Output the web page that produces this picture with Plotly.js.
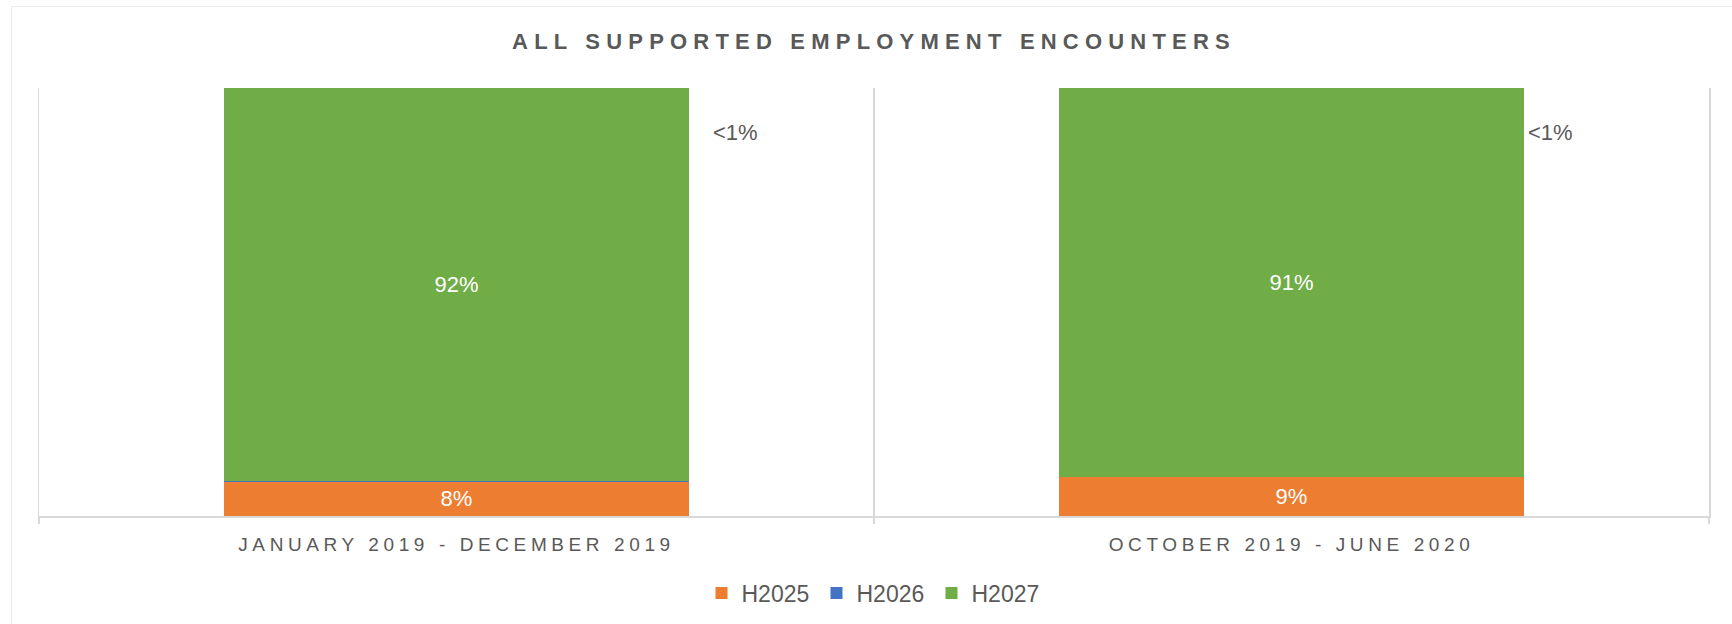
<!DOCTYPE html>
<html>
<head>
<meta charset="utf-8">
<script src="https://cdn.plot.ly/plotly-3.0.1.min.js"></script>
<style>
  html, body { margin: 0; padding: 0; background: #ffffff; }
  #chart { width: 1732px; height: 624px; }
  #frame { position: absolute; left: 11px; top: 6px; width: 1730px; height: 630px;
           border-left: 1px solid #ececec; border-top: 1px solid #ececec; pointer-events: none; }
  .gtitle { letter-spacing: 6.2px; }
  .xtick text { letter-spacing: 4.6px; }
</style>
</head>
<body>
<div id="chart"></div>
<div id="frame"></div>
<script>
// ---- data ----
const categories = ["JANUARY 2019 - DECEMBER 2019", "OCTOBER 2019 - JUNE 2020"];
const h2025 = [8, 9];
const h2026 = [0.2, 0.2];
const h2027 = [91.8, 90.8];
const h2025Labels = ["8%", "9%"];
const h2026Labels = ["<1%", "<1%"];
const h2027Labels = ["92%", "91%"];
const seriesNames = ["H2025", "H2026", "H2027"];
const colors = ["#ED7D31", "#4472C4", "#70AD47"];

const fontFam = '"Liberation Sans", Arial, sans-serif';
const txtColor = '#595959';

function barTrace(name, vals, labels, color, showText) {
  return {
    type: 'bar', name: name, x: categories, y: vals,
    marker: { color: color, line: { width: 0 } },
    text: showText ? labels : undefined,
    textposition: showText ? 'inside' : 'none',
    insidetextanchor: 'middle',
    textangle: 0,
    constraintext: 'none',
    textfont: { family: fontFam, size: 22, color: '#ffffff' },
    hoverinfo: 'name+y'
  };
}

const traces = [
  barTrace(seriesNames[0], h2025, h2025Labels, colors[0], true),
  barTrace(seriesNames[1], h2026, h2026Labels, colors[1], false),
  barTrace(seriesNames[2], h2027, h2027Labels, colors[2], true)
];

// "<1%" labels for the tiny H2026 segment, placed at the right of each bar top
const labelShifts = [279, 259];
const annotations = categories.map((c, i) => ({
  x: c, y: h2025[i] + h2026[i] + h2027[i], xref: 'x', yref: 'y',
  text: h2026Labels[i], showarrow: false,
  xshift: labelShifts[i], yshift: -44,
  font: { family: fontFam, size: 22, color: txtColor }
}));

const layout = {
  width: 1732, height: 624,
  paper_bgcolor: '#ffffff', plot_bgcolor: '#ffffff',
  margin: { l: 39, r: 23, t: 88, b: 108 },
  barmode: 'stack',
  bargap: 0.442,
  title: {
    text: '<b>ALL SUPPORTED EMPLOYMENT ENCOUNTERS</b>',
    font: { family: fontFam, size: 22, color: txtColor },
    x: 0.5, xanchor: 'center', xref: 'paper',
    y: 1 - 41 / 624, yanchor: 'middle', yref: 'container'
  },
  xaxis: {
    type: 'category',
    tickson: 'boundaries',
    showgrid: true, gridcolor: '#d9d9d9', gridwidth: 1.5,
    ticks: 'outside', ticklen: 6, tickcolor: '#d9d9d9', tickwidth: 1.5,
    showline: true, linecolor: '#d9d9d9', linewidth: 1.5,
    ticklabelstandoff: 11,
    tickfont: { family: fontFam, size: 19, color: txtColor },
    fixedrange: true
  },
  yaxis: {
    range: [0, 100],
    showgrid: false, zeroline: false,
    showline: true, mirror: true, linecolor: '#d9d9d9', linewidth: 1.5,
    showticklabels: false, ticks: '',
    fixedrange: true
  },
  showlegend: true,
  legend: {
    orientation: 'h',
    x: 0.5, xanchor: 'center',
    y: 1 - 593 / 624, yanchor: 'middle', yref: 'container',
    traceorder: 'normal',
    itemwidth: 30,
    entrywidth: 70, entrywidthmode: 'pixels',
    font: { family: fontFam, size: 23, color: txtColor }
  },
  annotations: annotations
};

Plotly.newPlot('chart', traces, layout, { displayModeBar: false, staticPlot: true });
</script>
</body>
</html>
